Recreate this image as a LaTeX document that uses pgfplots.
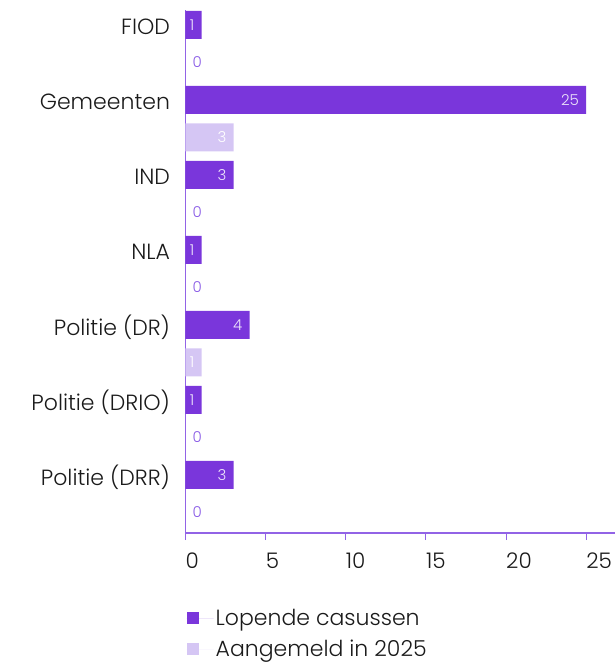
\documentclass[border=0pt]{standalone}
\usepackage{fontspec}
\setmainfont{Poppins}[UprightFont={* Light}]
\usepackage{pgfplots}
\pgfplotsset{compat=1.18}
\definecolor{dark}{HTML}{7A36DB}
\definecolor{light}{HTML}{D5C6F4}
\definecolor{axiscol}{HTML}{9263E6}
\definecolor{zerocol}{HTML}{8A5CE6}
\definecolor{vallab}{HTML}{EDE5FB}
\definecolor{txt}{HTML}{1A1A1A}
\begin{document}
\begin{tikzpicture}
\begin{axis}[
  name=ax,
  scale only axis,
  width=429.5pt, height=523pt,
  xmin=0, xmax=26.8,
  ymin=-13.55, ymax=0.4,
  axis lines*=left,
  axis line style={axiscol, line width=1.2pt},
  y axis line style={-}, x axis line style={-},
  xtick={0,5,10,15,20,25},
  xtick style={axiscol, line width=1pt},
  major tick length=7pt,
  tick align=outside,
  ytick={0,-2,-4,-6,-8,-10,-12},
  yticklabels={FIOD,Gemeenten,IND,NLA,Politie (DR),Politie (DRIO),Politie (DRR)},
  ytick style={draw=none},
  /pgf/number format/assume math mode=true,
  xticklabel style={font=\fontsize{21.5}{26}\selectfont, text=txt, anchor=north west, inner sep=0pt, xshift=0pt, yshift=-13pt},
  yticklabel style={font=\fontsize{22}{26}\selectfont, text=txt, xshift=-5pt, yshift=-2pt},
  bar width=28pt,
  legend style={at={(0,0)}, anchor=north west, xshift=-2pt, yshift=-72pt, draw=none, fill=none,
    font=\fontsize{22}{26}\selectfont, text=txt, row sep=9pt,
    legend cell align=left},
  legend image code/.code={\fill[#1] (0pt,-6pt) rectangle (12pt,6pt); \path (0pt,0pt) -- (27pt,0pt);},
]
% Lopende casussen
\addplot[xbar, fill=dark, draw=none,
  nodes near coords,
  every node near coord/.append style={anchor=east, xshift=-7pt, inner sep=0pt,
    font=\fontsize{15}{18}\selectfont, text=vallab}]
  coordinates {(1,0) (25,-2) (3,-4) (1,-6) (4,-8) (1,-10) (3,-12)};
\addlegendentry{Lopende casussen}
% Aangemeld in 2025 (nonzero)
\addplot[xbar, fill=light, draw=none,
  nodes near coords,
  every node near coord/.append style={anchor=east, xshift=-7pt, inner sep=0pt,
    font=\fontsize{15}{18}\selectfont, text=white}]
  coordinates {(3,-3) (1,-9)};
\addlegendentry{Aangemeld in 2025}
% Aangemeld in 2025 (zero values)
\addplot[only marks, mark=none, forget plot, point meta=x,
  nodes near coords,
  every node near coord/.append style={anchor=west, xshift=7pt, inner sep=0pt,
    font=\fontsize{15}{18}\selectfont, text=zerocol}]
  coordinates {(0,-1) (0,-5) (0,-7) (0,-11) (0,-13)};
\end{axis}
\path ([xshift=-185.5pt,yshift=-131pt]ax.south west) rectangle ([yshift=10pt]ax.north east);
\end{tikzpicture}
\end{document}
